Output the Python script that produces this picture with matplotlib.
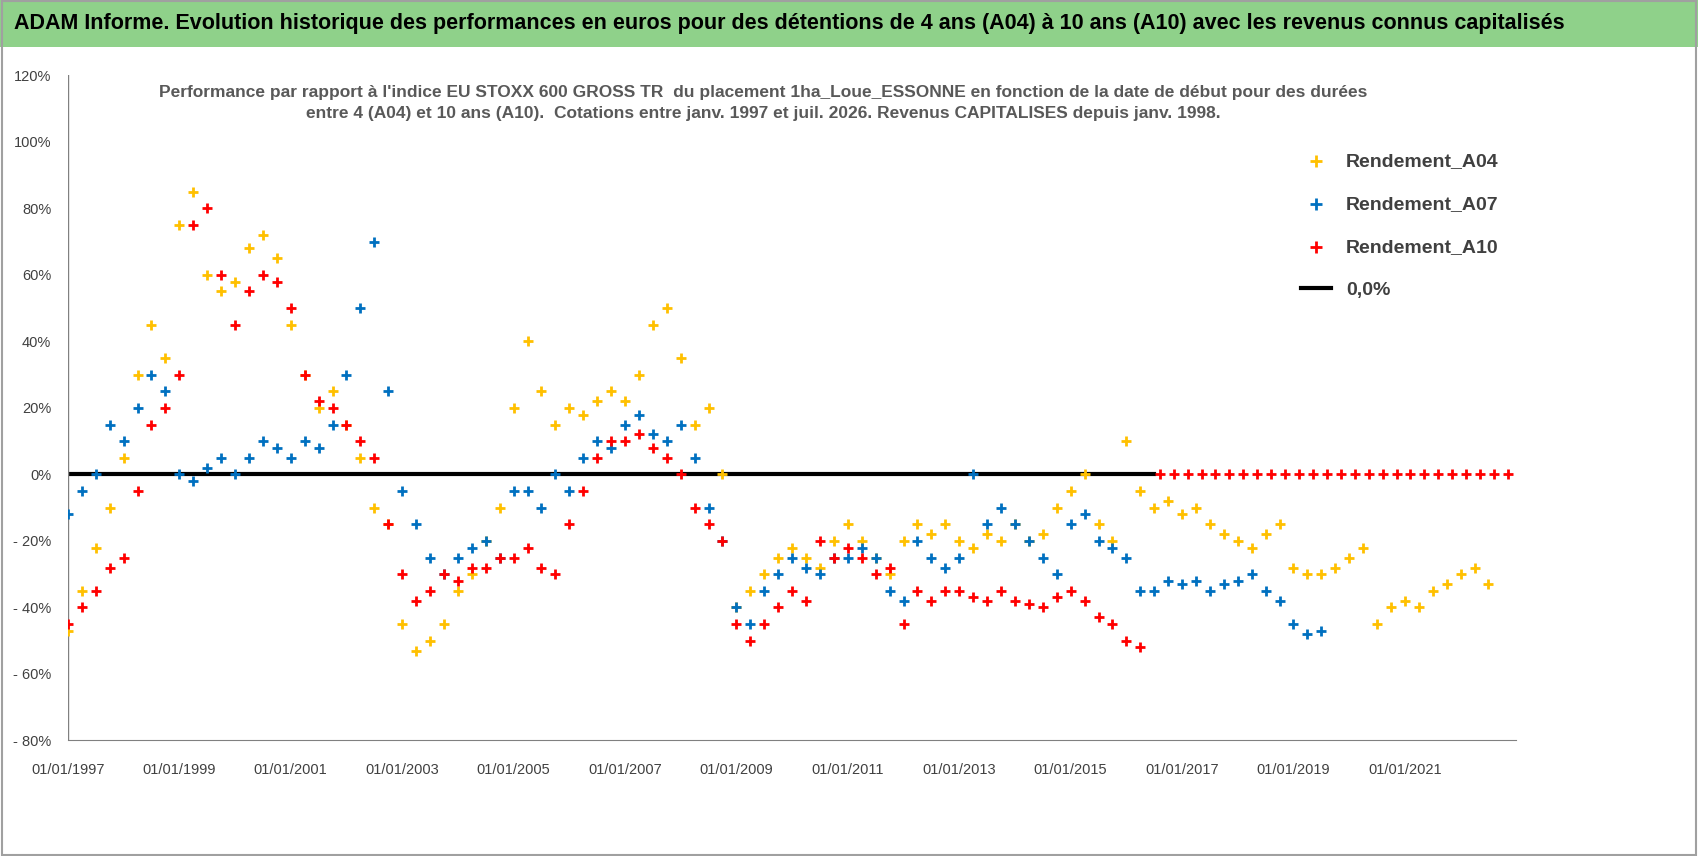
import matplotlib

matplotlib.use("Agg")
import matplotlib.pyplot as plt
from matplotlib.patches import Rectangle

plt.rcParams["font.family"] = ["Liberation Sans", "DejaVu Sans"]

# quarterly start dates (decimal years) and returns in %
a04_years = [1997 + 0.25 * i for i in range(103)]
a04_vals = [
    -47, -35, -22, -10, 5, 30, 45, 35, 75, 85, 60, 55, 58, 68, 72, 65,
    45, 30, 20, 25, 15, 5, -10, -15, -45, -53, -50, -45, -35, -30, -20, -10,
    20, 40, 25, 15, 20, 18, 22, 25, 22, 30, 45, 50, 35, 15, 20, 0,
    -40, -35, -30, -25, -22, -25, -28, -20, -15, -20, -25, -30, -20, -15, -18, -15,
    -20, -22, -18, -20, -15, -20, -18, -10, -5, 0, -15, -20, 10, -5, -10, -8,
    -12, -10, -15, -18, -20, -22, -18, -15, -28, -30, -30, -28, -25, -22, -45, -40,
    -38, -40, -35, -33, -30, -28, -33, -40, -40,
][:103]
a07_years = [1997 + 0.25 * i for i in range(91)]
a07_vals = [
    -12, -5, 0, 15, 10, 20, 30, 25, 0, -2, 2, 5, 0, 5, 10, 8,
    5, 10, 8, 15, 30, 50, 70, 25, -5, -15, -25, -30, -25, -22, -20, -25,
    -5, -5, -10, 0, -5, 5, 10, 8, 15, 18, 12, 10, 15, 5, -10, -20,
    -40, -45, -35, -30, -25, -28, -30, -25, -25, -22, -25, -35, -38, -20, -25, -28,
    -25, 0, -15, -10, -15, -20, -25, -30, -15, -12, -20, -22, -25, -35, -35, -32,
    -33, -32, -35, -33, -32, -30, -35, -38, -45, -48, -47,
]
a10_years = [1997 + 0.25 * i for i in range(78)]
a10_vals = [
    -45, -40, -35, -28, -25, -5, 15, 20, 30, 75, 80, 60, 45, 55, 60, 58,
    50, 30, 22, 20, 15, 10, 5, -15, -30, -38, -35, -30, -32, -28, -28, -25,
    -25, -22, -28, -30, -15, -5, 5, 10, 10, 12, 8, 5, 0, -10, -15, -20,
    -45, -50, -45, -40, -35, -38, -20, -25, -22, -25, -30, -28, -45, -35, -38, -35,
    -35, -37, -38, -35, -38, -39, -40, -37, -35, -38, -43, -45, -50, -52,
]
a10_zero_years = [2016.6 + 0.25 * i for i in range(26)]
a10_zero_vals = [0] * 26

fig = plt.figure(figsize=(16.98, 8.56), dpi=100)
fig.patches.append(Rectangle((0, 0.945), 1, 0.055, transform=fig.transFigure,
                             facecolor="#8FD18A", edgecolor="none"))
fig.patches.append(Rectangle((0.001, 0.001), 0.998, 0.998, transform=fig.transFigure,
                             facecolor="none", edgecolor="#A0A0A0", lw=1.5))
fig.text(0.465, 0.972,
         "ADAM Informe. Evolution historique des performances en euros pour des détentions de 4 ans (A04) à 10 ans (A10) avec les revenus connus capitalisés",
         ha="center", va="center", fontsize=15.5, fontweight="bold")

ax = fig.add_axes([0.04, 0.135, 0.853, 0.777])
ax.set_xlim(1997, 2023)
ax.set_ylim(-80, 120)
kw = dict(marker="+", s=60, lw=2)
ax.scatter(a04_years, a04_vals, color="#FFC000", label="Rendement_A04", zorder=3, **kw)
ax.scatter(a07_years, a07_vals, color="#0070C0", label="Rendement_A07", zorder=3, **kw)
ax.scatter(a10_years, a10_vals, color="#FF0000", label="Rendement_A10", zorder=3, **kw)
ax.scatter(a10_zero_years, a10_zero_vals, color="#FF0000", zorder=4, **kw)
ax.plot([1997, 2016.5], [0, 0], color="black", lw=3, label="0,0%", zorder=2)

yt = list(range(-80, 121, 20))
ax.set_yticks(yt)
ax.set_yticklabels([f"- {abs(v)}%" if v < 0 else f"{v}%" for v in yt], fontsize=10.5, color="#404040")
xt = list(range(1997, 2022, 2))
ax.set_xticks(xt)
ax.set_xticklabels([f"01/01/{y}" for y in xt], fontsize=10.5, color="#404040")
ax.tick_params(length=0)
ax.tick_params(axis="x", pad=16)
ax.tick_params(axis="y", pad=12)
for s in ["top", "right", "left"]:
    ax.spines[s].set_visible(False)
ax.spines["bottom"].set_color("#808080")
ax.axvline(1997, color="#808080", lw=1)

ax.text(0.48, 0.985,
        "Performance par rapport à l'indice EU STOXX 600 GROSS TR  du placement 1ha_Loue_ESSONNE en fonction de la date de début pour des durées\n"
        "entre 4 (A04) et 10 ans (A10).  Cotations entre janv. 1997 et juil. 2026. Revenus CAPITALISES depuis janv. 1998.",
        transform=ax.transAxes, ha="center", va="top", fontsize=12.5, fontweight="bold",
        color="#595959", linespacing=1.5)

leg = ax.legend(loc="upper right", bbox_to_anchor=(1.0, 0.91), fontsize=14, frameon=True,
                framealpha=1, edgecolor="white", markerscale=1.2, labelspacing=1.3, handlelength=1.5)
for t in leg.get_texts():
    t.set_color("#404040")
    t.set_fontweight("bold")

fig.savefig("out.png", dpi=100)
